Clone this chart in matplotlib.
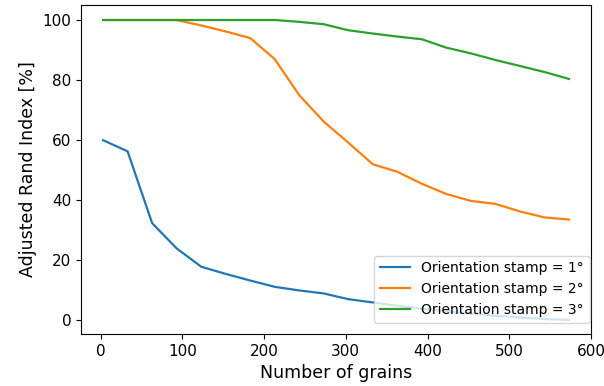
import matplotlib
matplotlib.use('Agg')
import matplotlib.pyplot as plt

# number of grains (x) shared by all curves
grains = [3, 33, 63, 93, 123, 153, 183, 213, 243, 273,
          303, 333, 363, 393, 423, 453, 483, 513, 543, 573]

# adjusted rand index [%] for each orientation stamp
ari_1deg = [60, 56.3, 32.4, 24, 17.9, 15.5, 13.3, 11.2, 10, 9,
            7.1, 6.0, 4.9, 3.9, 3.0, 2.3, 1.6, 1.0, 0.5, 0.2]
ari_2deg = [100, 100, 100, 100, 98.2, 96.2, 94, 87, 75, 66.2,
            59.2, 52, 49.5, 45.5, 42.1, 39.8, 38.8, 36.3, 34.3, 33.6]
ari_3deg = [100, 100, 100, 100, 100, 100, 100, 100, 99.4, 98.6,
            96.6, 95.5, 94.5, 93.6, 90.8, 88.9, 86.7, 84.7, 82.7, 80.4]

labels = ['Orientation stamp = 1°', 'Orientation stamp = 2°', 'Orientation stamp = 3°']

fig = plt.figure(figsize=(6.04, 3.86), dpi=100)
ax = fig.add_axes([81 / 604, 1 - 334 / 386, 510 / 604, 329 / 386])

ax.plot(grains, ari_1deg, lw=1.6, label=labels[0])
ax.plot(grains, ari_2deg, lw=1.6, label=labels[1])
ax.plot(grains, ari_3deg, lw=1.6, label=labels[2])

ax.set_xlim(-24, 600)
ax.set_ylim(-4.5, 105)
ax.set_xticks([0, 100, 200, 300, 400, 500, 600])
ax.set_yticks([0, 20, 40, 60, 80, 100])
ax.tick_params(labelsize=11)
ax.set_xlabel('Number of grains', fontsize=12.5)
ax.set_ylabel('Adjusted Rand Index [%]', fontsize=12.5)

ax.legend(loc='lower right', bbox_to_anchor=(1.0, 0.03), borderaxespad=0.1,
          fontsize=10, handlelength=2.2)

fig.savefig('out.png', dpi=100)
